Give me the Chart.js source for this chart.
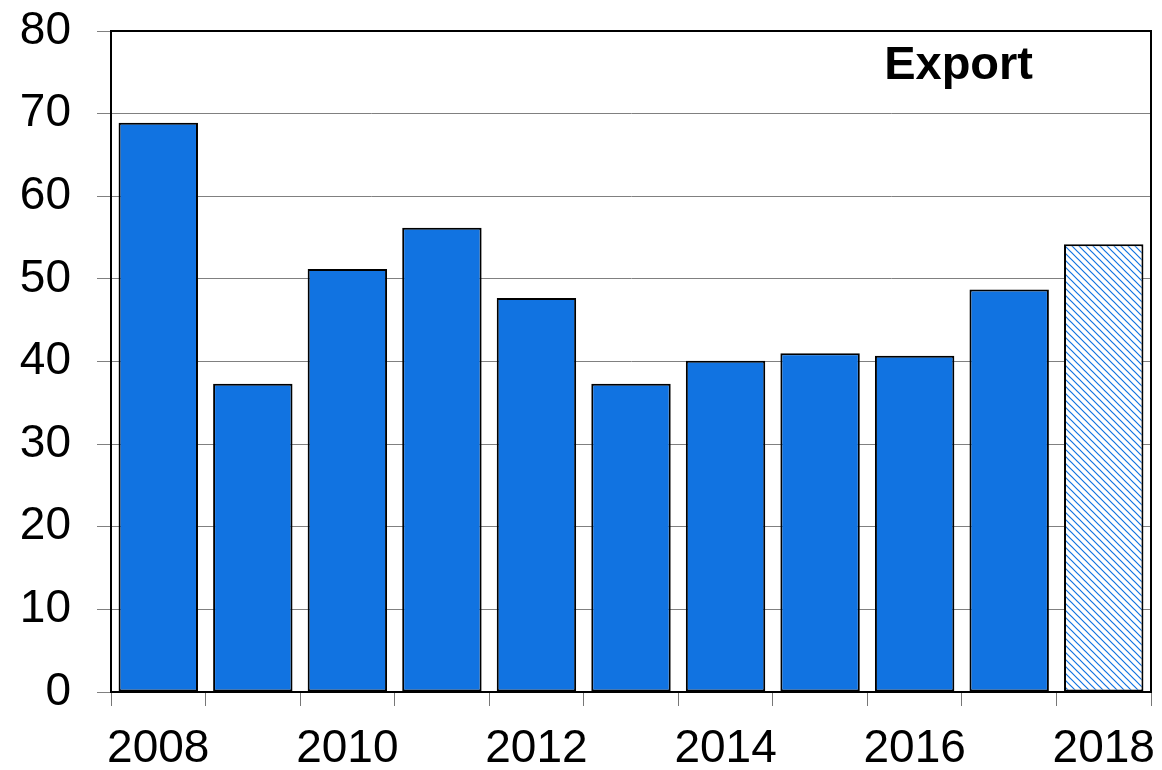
<!DOCTYPE html>
<html>
<head>
<meta charset="utf-8">
<script src="https://cdn.jsdelivr.net/npm/chart.js@4.4.0/dist/chart.umd.min.js"></script>
<style>
  html, body { margin: 0; padding: 0; background: #fff; }
  #wrap { width: 1162px; height: 770px; position: relative; }
</style>
</head>
<body>
<div id="wrap"><canvas id="export-ctx"></canvas></div>
<script>
// DATA
const YEARS = ['2008', '2009', '2010', '2011', '2012', '2013', '2014', '2015', '2016', '2017', '2018'];
const EXPORT_VALUES = [68.9, 37.3, 51.2, 56.2, 47.7, 37.3, 40.1, 41.0, 40.7, 48.7, 54.2];
const FORECAST_INDEX = 10; // last bar drawn hatched
const Y_MIN = 0;
const Y_MAX = 80;
const Y_STEP = 10;
const SERIES_LABEL = 'Export';

const BLUE = '#1173E1';

// hatched fill for the estimated year
const makeHatch = () => {
  const c = document.createElement('canvas');
  c.width = 7;
  c.height = 7;
  const g = c.getContext('2d');
  g.fillStyle = '#fff';
  g.fillRect(0, 0, 7, 7);
  g.strokeStyle = BLUE;
  g.lineWidth = 1.2;
  g.beginPath();
  g.moveTo(-1, -1); g.lineTo(8, 8);
  g.moveTo(-1, 6); g.lineTo(1, 8);
  g.moveTo(6, -1); g.lineTo(8, 1);
  g.stroke();
  return g.createPattern(c, 'repeat');
};
const hatch = makeHatch();

// box around plot + label in the corner
const frameAndLabel = {
  id: 'frameAndLabel',
  afterDraw(chart) {
    const {ctx, chartArea: a} = chart;
    ctx.save();
    ctx.strokeStyle = '#000';
    ctx.lineWidth = 2;
    ctx.strokeRect(a.left, a.top, a.right - a.left, a.bottom - a.top);
    ctx.fillStyle = '#000';
    ctx.font = 'bold 47px "Liberation Sans", Arial, sans-serif';
    ctx.textAlign = 'center';
    ctx.textBaseline = 'alphabetic';
    ctx.fillText(SERIES_LABEL, a.left + (a.right - a.left) * 0.815, a.top + 48);
    ctx.restore();
  }
};

new Chart(document.getElementById('export-ctx'), {
  type: 'bar',
  data: {
    labels: YEARS,
    datasets: [{
      label: SERIES_LABEL,
      data: EXPORT_VALUES,
      backgroundColor: EXPORT_VALUES.map((v, i) => i === FORECAST_INDEX ? hatch : BLUE),
      borderColor: '#000',
      borderWidth: 2,
      borderSkipped: false,
      categoryPercentage: 1.0,
      barPercentage: 0.84
    }]
  },
  options: {
    responsive: true,
    maintainAspectRatio: false,
    animation: false,
    layout: {
      padding: {left: 0, right: 11, top: 31, bottom: 0}
    },
    plugins: {
      legend: {display: false},
      tooltip: {enabled: false}
    },
    scales: {
      x: {
        offset: true,
        afterFit: (scale) => {
          scale.height = 78;
          scale.paddingLeft = 0;
          scale.paddingRight = 0;
        },
        grid: {
          display: true,
          offset: true,
          drawOnChartArea: false,
          tickLength: 14,
          color: '#777'
        },
        border: {display: true, color: '#000', width: 2},
        ticks: {
          autoSkip: false,
          maxRotation: 0,
          padding: 16,
          color: '#000',
          font: {family: '"Liberation Sans", Arial, sans-serif', size: 46},
          callback: function (val, idx) {
            return idx % 2 === 0 ? this.getLabelForValue(val) : '';
          }
        }
      },
      y: {
        min: Y_MIN,
        max: Y_MAX,
        afterFit: (scale) => {
          scale.width = 111;
          scale.paddingTop = 0;
          scale.paddingBottom = 0;
        },
        grid: {
          color: '#808080',
          lineWidth: 1,
          tickLength: 14
        },
        border: {display: true, color: '#000', width: 2},
        ticks: {
          stepSize: Y_STEP,
          padding: 26,
          color: '#000',
          font: {family: '"Liberation Sans", Arial, sans-serif', size: 46}
        }
      }
    }
  },
  plugins: [frameAndLabel]
});
</script>
</body>
</html>
